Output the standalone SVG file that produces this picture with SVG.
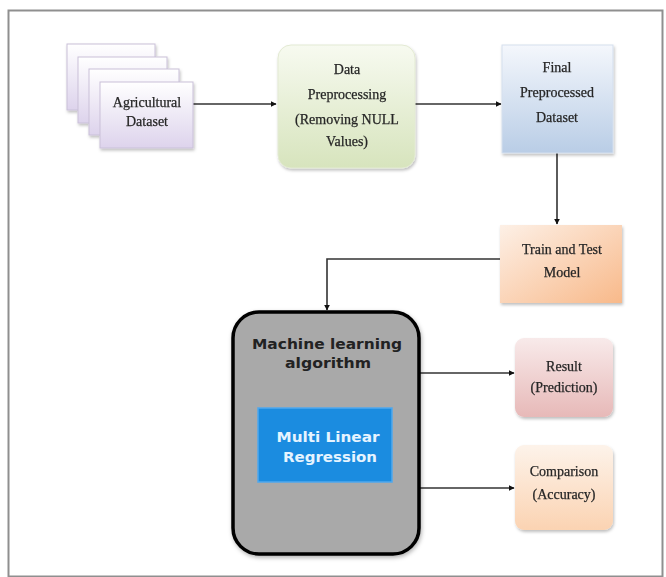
<svg xmlns="http://www.w3.org/2000/svg" width="666" height="577" viewBox="0 0 666 577">
<style>
.t{font-family:"Liberation Serif","Times New Roman",serif;font-size:14px;fill:#262626;stroke:#262626;stroke-width:0.25;text-anchor:middle}
.b{font-family:"DejaVu Sans","Liberation Sans",sans-serif;font-weight:bold;text-anchor:middle}
.ln{stroke:#333;stroke-width:1.6;fill:none}
</style>
<defs>
<marker id="ah" viewBox="0 0 10 10" refX="9" refY="5" markerWidth="6" markerHeight="6" orient="auto" markerUnits="userSpaceOnUse"><path d="M0,0 L10,5 L0,10 z" fill="#111"/></marker>
<filter id="sh" x="-10%" y="-10%" width="130%" height="130%"><feDropShadow dx="1" dy="2" stdDeviation="1.5" flood-color="#000" flood-opacity="0.25"/></filter>
<filter id="sh2" x="-10%" y="-10%" width="130%" height="130%"><feDropShadow dx="1" dy="2" stdDeviation="2" flood-color="#000" flood-opacity="0.3"/></filter>
<linearGradient id="gPurple" x1="0" y1="0" x2="0" y2="1"><stop offset="0" stop-color="#ffffff"/><stop offset="1" stop-color="#ddd3ec"/></linearGradient>
<linearGradient id="gGreen" x1="0" y1="0" x2="0" y2="1"><stop offset="0" stop-color="#f7faf0"/><stop offset="1" stop-color="#d7e4bd"/></linearGradient>
<linearGradient id="gBlue" x1="0" y1="0" x2="0" y2="1"><stop offset="0" stop-color="#f4f7fc"/><stop offset="1" stop-color="#b9cde6"/></linearGradient>
<linearGradient id="gOrange" x1="0" y1="0" x2="1" y2="1"><stop offset="0" stop-color="#fdf0e6"/><stop offset="1" stop-color="#f8b98a"/></linearGradient>
<linearGradient id="gPink" x1="0" y1="0" x2="0" y2="1"><stop offset="0" stop-color="#f8eaea"/><stop offset="1" stop-color="#e7b9b8"/></linearGradient>
<linearGradient id="gPeach" x1="0" y1="0" x2="0" y2="1"><stop offset="0" stop-color="#fdf3ea"/><stop offset="1" stop-color="#fbd3b2"/></linearGradient>
</defs>
<rect x="0" y="0" width="666" height="577" fill="#ffffff"/>
<rect x="8.5" y="10.5" width="654" height="566" fill="none" stroke="#8f8f8f" stroke-width="2"/>

<g id="connectors">
<path class="ln" d="M193,104 H276" marker-end="url(#ah)"/>
<path class="ln" d="M415,104 H501" marker-end="url(#ah)"/>
<path class="ln" d="M557,153 V224" marker-end="url(#ah)"/>
<path class="ln" d="M500,259 H327 V310" marker-end="url(#ah)"/>
<path class="ln" d="M419,373 H514" marker-end="url(#ah)"/>
<path class="ln" d="M419,488 H514" marker-end="url(#ah)"/>
</g>

<g id="agricultural-dataset" filter="url(#sh)">
<rect x="67" y="44" width="88" height="66" fill="url(#gPurple)" stroke="#c9c0d8" stroke-width="1"/>
<rect x="78" y="57" width="89" height="66" fill="url(#gPurple)" stroke="#c9c0d8" stroke-width="1"/>
<rect x="89" y="69" width="90" height="66" fill="url(#gPurple)" stroke="#c9c0d8" stroke-width="1"/>
<rect x="100" y="82" width="93" height="66" fill="url(#gPurple)" stroke="#c9c0d8" stroke-width="1"/>
<text class="t" x="147" y="107">Agricultural</text>
<text class="t" x="147" y="126">Dataset</text>
</g>

<g id="data-preprocessing" filter="url(#sh)">
<rect x="278" y="45" width="137" height="123" rx="13" fill="url(#gGreen)" stroke="#e3ead3" stroke-width="1"/>
<text class="t" x="347" y="74">Data</text>
<text class="t" x="347" y="99">Preprocessing</text>
<text class="t" x="347" y="124">(Removing NULL</text>
<text class="t" x="347" y="146">Values)</text>
</g>

<g id="final-preprocessed-dataset" filter="url(#sh)">
<rect x="502" y="45" width="111" height="108" fill="url(#gBlue)" stroke="#d5dfee" stroke-width="1"/>
<text class="t" x="557" y="72">Final</text>
<text class="t" x="557" y="97">Preprocessed</text>
<text class="t" x="557" y="122">Dataset</text>
</g>

<g id="train-test-model" filter="url(#sh)">
<rect x="500" y="225" width="122" height="78" fill="url(#gOrange)"/>
<text class="t" x="562" y="254">Train and Test</text>
<text class="t" x="562" y="277">Model</text>
</g>

<g id="ml-algorithm">
<rect x="233" y="312" width="186" height="242" rx="26" fill="#a9a9a9" stroke="#000" stroke-width="3.5" filter="url(#sh2)"/>
<text class="b" x="327" y="349" font-size="14" fill="#222" textLength="150" lengthAdjust="spacingAndGlyphs">Machine learning</text>
<text class="b" x="328" y="368" font-size="14" fill="#222" textLength="86" lengthAdjust="spacingAndGlyphs">algorithm</text>
<g id="multi-linear-regression">
<rect x="258" y="408" width="134" height="74" fill="#1b8ce0" stroke="#4fa8ee" stroke-width="1.5"/>
<text class="b" x="328" y="442" font-size="14" fill="#e6f4ff" textLength="103" lengthAdjust="spacingAndGlyphs">Multi Linear</text>
<text class="b" x="330" y="462" font-size="14" fill="#e6f4ff" textLength="94" lengthAdjust="spacingAndGlyphs">Regression</text>
</g>
</g>

<g id="result" filter="url(#sh)">
<rect x="515" y="338" width="98" height="79" rx="9" fill="url(#gPink)"/>
<text class="t" x="564" y="371">Result</text>
<text class="t" x="564" y="392">(Prediction)</text>
</g>

<g id="comparison" filter="url(#sh)">
<rect x="515" y="445" width="98" height="85" rx="9" fill="url(#gPeach)"/>
<text class="t" x="564" y="476">Comparison</text>
<text class="t" x="564" y="499">(Accuracy)</text>
</g>
</svg>
